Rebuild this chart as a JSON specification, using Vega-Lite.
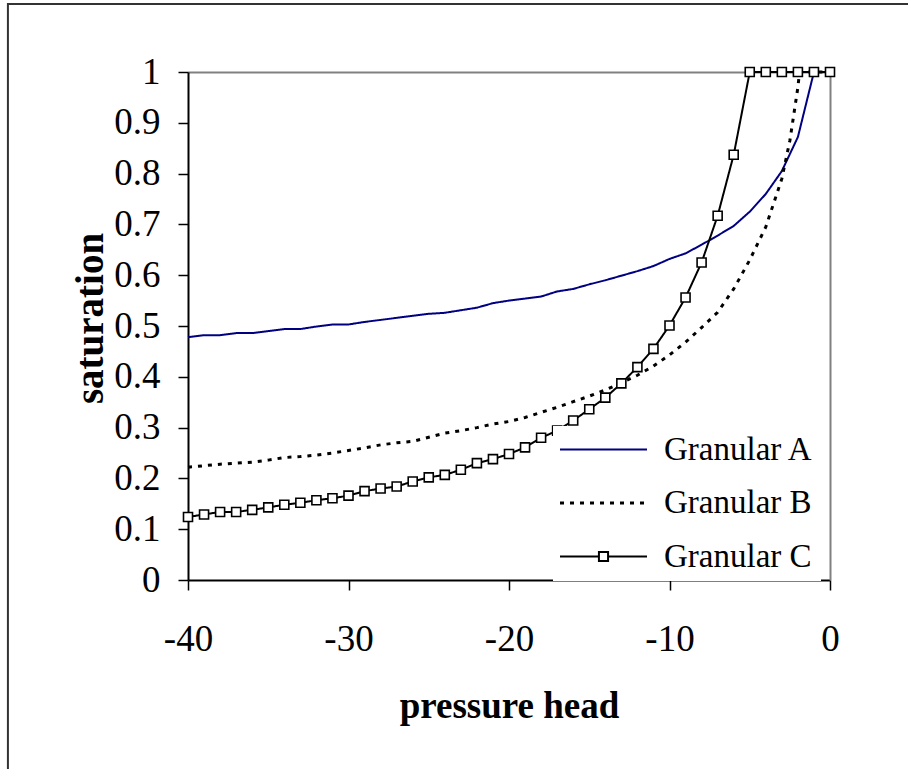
{
  "$schema": "https://vega.github.io/schema/vega-lite/v6.json",
  "autosize": "none",
  "width": 642,
  "height": 508,
  "padding": {"left": 188, "top": 72, "right": 78, "bottom": 189},
  "background": "white",
  "config": {"view": {"stroke": null}},
  "data": {"values": [
    {"x": -40, "s": 0.478, "series": "Granular A"}, {"x": -39, "s": 0.482, "series": "Granular A"}, {"x": -38, "s": 0.482, "series": "Granular A"}, {"x": -37, "s": 0.486, "series": "Granular A"}, {"x": -36, "s": 0.486, "series": "Granular A"}, {"x": -35, "s": 0.490, "series": "Granular A"}, {"x": -34, "s": 0.494, "series": "Granular A"}, {"x": -33, "s": 0.494, "series": "Granular A"}, {"x": -32, "s": 0.499, "series": "Granular A"}, {"x": -31, "s": 0.503, "series": "Granular A"}, {"x": -30, "s": 0.503, "series": "Granular A"}, {"x": -29, "s": 0.508, "series": "Granular A"}, {"x": -28, "s": 0.512, "series": "Granular A"}, {"x": -27, "s": 0.516, "series": "Granular A"}, {"x": -26, "s": 0.520, "series": "Granular A"}, {"x": -25, "s": 0.524, "series": "Granular A"}, {"x": -24, "s": 0.526, "series": "Granular A"}, {"x": -23, "s": 0.531, "series": "Granular A"}, {"x": -22, "s": 0.536, "series": "Granular A"}, {"x": -21, "s": 0.545, "series": "Granular A"}, {"x": -20, "s": 0.550, "series": "Granular A"}, {"x": -19, "s": 0.554, "series": "Granular A"}, {"x": -18, "s": 0.558, "series": "Granular A"}, {"x": -17, "s": 0.568, "series": "Granular A"}, {"x": -16, "s": 0.573, "series": "Granular A"}, {"x": -15, "s": 0.582, "series": "Granular A"}, {"x": -14, "s": 0.590, "series": "Granular A"}, {"x": -13, "s": 0.599, "series": "Granular A"}, {"x": -12, "s": 0.608, "series": "Granular A"}, {"x": -11, "s": 0.618, "series": "Granular A"}, {"x": -10, "s": 0.632, "series": "Granular A"}, {"x": -9, "s": 0.643, "series": "Granular A"}, {"x": -8, "s": 0.660, "series": "Granular A"}, {"x": -7, "s": 0.678, "series": "Granular A"}, {"x": -6, "s": 0.697, "series": "Granular A"}, {"x": -5, "s": 0.725, "series": "Granular A"}, {"x": -4, "s": 0.760, "series": "Granular A"}, {"x": -3, "s": 0.805, "series": "Granular A"}, {"x": -2, "s": 0.872, "series": "Granular A"}, {"x": -1, "s": 1.0, "series": "Granular A"}, {"x": 0, "s": 1.0, "series": "Granular A"},
    {"x": -40, "s": 0.222, "series": "Granular B"}, {"x": -39, "s": 0.225, "series": "Granular B"}, {"x": -38, "s": 0.228, "series": "Granular B"}, {"x": -37, "s": 0.230, "series": "Granular B"}, {"x": -36, "s": 0.232, "series": "Granular B"}, {"x": -35, "s": 0.236, "series": "Granular B"}, {"x": -34, "s": 0.241, "series": "Granular B"}, {"x": -33, "s": 0.243, "series": "Granular B"}, {"x": -32, "s": 0.246, "series": "Granular B"}, {"x": -31, "s": 0.250, "series": "Granular B"}, {"x": -30, "s": 0.255, "series": "Granular B"}, {"x": -29, "s": 0.260, "series": "Granular B"}, {"x": -28, "s": 0.266, "series": "Granular B"}, {"x": -27, "s": 0.270, "series": "Granular B"}, {"x": -26, "s": 0.273, "series": "Granular B"}, {"x": -25, "s": 0.281, "series": "Granular B"}, {"x": -24, "s": 0.289, "series": "Granular B"}, {"x": -23, "s": 0.294, "series": "Granular B"}, {"x": -22, "s": 0.300, "series": "Granular B"}, {"x": -21, "s": 0.307, "series": "Granular B"}, {"x": -20, "s": 0.312, "series": "Granular B"}, {"x": -19, "s": 0.320, "series": "Granular B"}, {"x": -18, "s": 0.330, "series": "Granular B"}, {"x": -17, "s": 0.340, "series": "Granular B"}, {"x": -16, "s": 0.351, "series": "Granular B"}, {"x": -15, "s": 0.362, "series": "Granular B"}, {"x": -14, "s": 0.374, "series": "Granular B"}, {"x": -13, "s": 0.388, "series": "Granular B"}, {"x": -12, "s": 0.403, "series": "Granular B"}, {"x": -11, "s": 0.421, "series": "Granular B"}, {"x": -10, "s": 0.443, "series": "Granular B"}, {"x": -9, "s": 0.468, "series": "Granular B"}, {"x": -8, "s": 0.497, "series": "Granular B"}, {"x": -7, "s": 0.527, "series": "Granular B"}, {"x": -6, "s": 0.573, "series": "Granular B"}, {"x": -5, "s": 0.630, "series": "Granular B"}, {"x": -4, "s": 0.695, "series": "Granular B"}, {"x": -3, "s": 0.790, "series": "Granular B"}, {"x": -2.5, "s": 0.865, "series": "Granular B"}, {"x": -2, "s": 0.970, "series": "Granular B"}, {"x": -1.9, "s": 1.0, "series": "Granular B"}, {"x": -1, "s": 1.0, "series": "Granular B"}, {"x": 0, "s": 1.0, "series": "Granular B"},
    {"x": -40, "s": 0.124, "series": "Granular C"}, {"x": -39, "s": 0.129, "series": "Granular C"}, {"x": -38, "s": 0.134, "series": "Granular C"}, {"x": -37, "s": 0.134, "series": "Granular C"}, {"x": -36, "s": 0.138, "series": "Granular C"}, {"x": -35, "s": 0.143, "series": "Granular C"}, {"x": -34, "s": 0.148, "series": "Granular C"}, {"x": -33, "s": 0.152, "series": "Granular C"}, {"x": -32, "s": 0.157, "series": "Granular C"}, {"x": -31, "s": 0.161, "series": "Granular C"}, {"x": -30, "s": 0.166, "series": "Granular C"}, {"x": -29, "s": 0.175, "series": "Granular C"}, {"x": -28, "s": 0.180, "series": "Granular C"}, {"x": -27, "s": 0.184, "series": "Granular C"}, {"x": -26, "s": 0.194, "series": "Granular C"}, {"x": -25, "s": 0.202, "series": "Granular C"}, {"x": -24, "s": 0.207, "series": "Granular C"}, {"x": -23, "s": 0.217, "series": "Granular C"}, {"x": -22, "s": 0.230, "series": "Granular C"}, {"x": -21, "s": 0.238, "series": "Granular C"}, {"x": -20, "s": 0.248, "series": "Granular C"}, {"x": -19, "s": 0.261, "series": "Granular C"}, {"x": -18, "s": 0.280, "series": "Granular C"}, {"x": -17, "s": 0.294, "series": "Granular C"}, {"x": -16, "s": 0.314, "series": "Granular C"}, {"x": -15, "s": 0.336, "series": "Granular C"}, {"x": -14, "s": 0.359, "series": "Granular C"}, {"x": -13, "s": 0.387, "series": "Granular C"}, {"x": -12, "s": 0.419, "series": "Granular C"}, {"x": -11, "s": 0.455, "series": "Granular C"}, {"x": -10, "s": 0.501, "series": "Granular C"}, {"x": -9, "s": 0.556, "series": "Granular C"}, {"x": -8, "s": 0.625, "series": "Granular C"}, {"x": -7, "s": 0.717, "series": "Granular C"}, {"x": -6, "s": 0.837, "series": "Granular C"}, {"x": -5, "s": 1.0, "series": "Granular C"}, {"x": -4, "s": 1.0, "series": "Granular C"}, {"x": -3, "s": 1.0, "series": "Granular C"}, {"x": -2, "s": 1.0, "series": "Granular C"}, {"x": -1, "s": 1.0, "series": "Granular C"}, {"x": 0, "s": 1.0, "series": "Granular C"}
  ]},
  "resolve": {"axis": {"x": "independent", "y": "independent"}},
  "layer": [
    {
      "transform": [{"filter": "datum.series === 'Granular A'"}],
      "mark": {"type": "line", "strokeWidth": 2},
      "encoding": {
        "x": {"field": "x", "type": "quantitative", "scale": {"domain": [-40, 0], "nice": false, "zero": false},
          "axis": {"orient": "bottom", "values": [-40, -30, -20, -10, 0], "labelExpr": "replace(datum.label, '\u2212', '-')", "grid": false, "tickSize": 10, "tickColor": "black", "tickWidth": 1.5, "domainColor": "black", "domainWidth": 2,
            "labelFont": "Liberation Serif", "labelFontSize": 37, "labelColor": "black", "labelPadding": 31, "labelFlush": false,
            "title": "pressure head", "titleFont": "Liberation Serif", "titleFontSize": 37, "titleFontWeight": "bold", "titleColor": "black", "titleBaseline": "alphabetic", "titleY": 137, "titleX": 321, "titleAnchor": "middle"}},
        "y": {"field": "s", "type": "quantitative", "scale": {"domain": [0, 1], "nice": false},
          "axis": {"orient": "left", "values": [0, 0.1, 0.2, 0.3, 0.4, 0.5, 0.6, 0.7, 0.8, 0.9, 1], "format": ".1~f", "grid": false, "tickSize": 10, "tickColor": "black", "tickWidth": 1.5, "domainColor": "black", "domainWidth": 2,
            "labelFont": "Liberation Serif", "labelFontSize": 37, "labelColor": "black", "labelPadding": 18, "labelFlush": false,
            "title": "saturation", "titleFont": "Liberation Serif", "titleFontSize": 39, "titleFontWeight": "bold", "titleColor": "black", "titleBaseline": "alphabetic", "titleAngle": -90, "titleX": -86, "titleY": 246, "titleAlign": "center"}},
        "color": {"field": "series", "type": "nominal",
          "scale": {"domain": ["Granular A", "Granular B", "Granular C"], "range": ["#000080", "#000000", "#000000"]},
          "legend": {"orient": "none", "legendX": 365, "legendY": 354, "title": null, "symbolType": "stroke", "symbolSize": 7569, "symbolStrokeWidth": 2, "symbolOffset": 27,
            "labelFont": "Liberation Serif", "labelFontSize": 33, "labelColor": "black", "labelOffset": 44, "rowPadding": 19.5, "fillColor": "white", "padding": 7,
            "encode": {"symbols": {"update": {
              "shape": {"signal": "datum.value === 'Granular C' ? 'M-1,0H-0.105M0.105,0H1M-0.105,-0.105H0.105V0.105H-0.105Z' : 'stroke'"},
              "fill": {"value": "white"},
              "strokeWidth": {"signal": "datum.value === 'Granular B' ? 3 : 2"}}}}}},
        "strokeDash": {"field": "series", "type": "nominal",
          "scale": {"domain": ["Granular A", "Granular B", "Granular C"], "range": [[1, 0], [4, 6], [1, 0]]}}
      }
    },
    {
      "transform": [{"filter": "datum.series === 'Granular B'"}],
      "mark": {"type": "line", "strokeWidth": 3},
      "encoding": {
        "x": {"field": "x", "type": "quantitative", "axis": {"orient": "top", "labels": false, "ticks": false, "title": null, "grid": false, "domainColor": "#808080", "domainWidth": 2}},
        "y": {"field": "s", "type": "quantitative", "axis": {"orient": "right", "labels": false, "ticks": false, "title": null, "grid": false, "domainColor": "#808080", "domainWidth": 2}},
        "color": {"field": "series", "type": "nominal"},
        "strokeDash": {"field": "series", "type": "nominal"}
      }
    },
    {
      "transform": [{"filter": "datum.series === 'Granular C'"}],
      "mark": {"type": "line", "strokeWidth": 2},
      "encoding": {
        "x": {"field": "x", "type": "quantitative", "axis": null},
        "y": {"field": "s", "type": "quantitative", "axis": null},
        "color": {"field": "series", "type": "nominal"},
        "strokeDash": {"field": "series", "type": "nominal"}
      }
    },
    {
      "transform": [{"filter": "datum.series === 'Granular C'"}],
      "mark": {"type": "point", "shape": "square", "size": 81, "filled": true, "fill": "white", "stroke": "black", "strokeWidth": 1.6, "opacity": 1, "clip": false},
      "encoding": {
        "x": {"field": "x", "type": "quantitative", "axis": null},
        "y": {"field": "s", "type": "quantitative", "axis": null}
      }
    },
    {
      "data": {"values": [{}]},
      "mark": {"type": "rect", "fill": null, "stroke": "#333333", "strokeWidth": 2, "clip": false},
      "encoding": {
        "x": {"datum": -51.22, "type": "quantitative", "axis": null},
        "x2": {"datum": 10},
        "y": {"datum": 1.1339, "type": "quantitative", "axis": null},
        "y2": {"datum": -0.5}
      }
    }
  ]
}
